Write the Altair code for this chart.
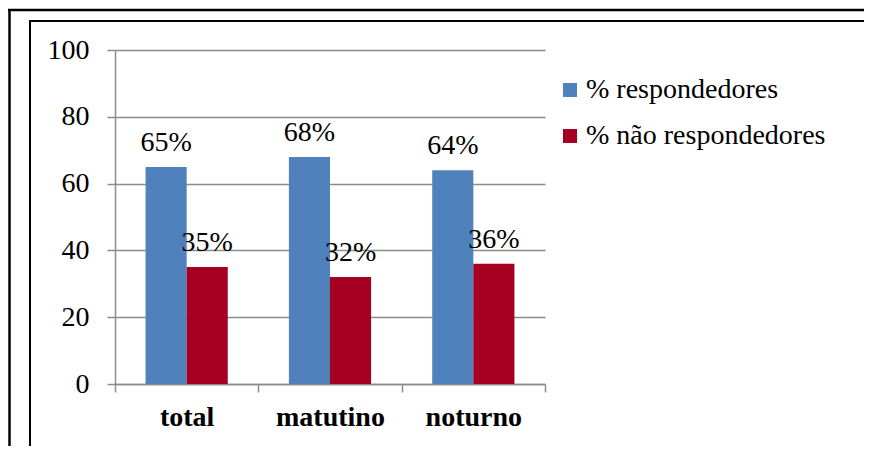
import altair as alt
import pandas as pd

categories = ["total", "matutino", "noturno"]
series = ["% respondedores", "% não respondedores"]
respondedores = [65, 68, 64]
nao_respondedores = [35, 32, 36]
y_ticks = [0, 20, 40, 60, 80, 100]
colors = ["#4F81BD", "#A50021"]

rows = []
for c, a, b in zip(categories, respondedores, nao_respondedores):
    rows.append({"categoria": c, "serie": series[0], "valor": a, "rotulo": f"{a}%"})
    rows.append({"categoria": c, "serie": series[1], "valor": b, "rotulo": f"{b}%"})
df = pd.DataFrame(rows)

FONT = "Liberation Serif"
FS = 28
GRAY = "#8C8C8C"

x_enc = alt.X(
    "categoria:N",
    sort=categories,
    scale=alt.Scale(paddingInner=0, paddingOuter=0),
    axis=alt.Axis(
        title=None, labelAngle=0, labelFont=FONT, labelFontSize=FS,
        labelFontWeight="bold", labelColor="black", tickBand="extent",
        tickSize=8, tickColor=GRAY, domainColor=GRAY, labelPadding=11,
        domainWidth=1.5, tickWidth=1.5,
    ),
)
xo_enc = alt.XOffset("serie:N", sort=series,
                     scale=alt.Scale(paddingInner=0, paddingOuter=0.744))
y_enc = alt.Y(
    "valor:Q",
    scale=alt.Scale(domain=[0, 100], nice=False),
    axis=alt.Axis(
        title=None, values=y_ticks, grid=True, gridColor=GRAY, gridWidth=1.5,
        tickSize=8, tickColor=GRAY, tickWidth=1.5, domainColor=GRAY, domainWidth=1.5,
        labelFont=FONT, labelFontSize=FS, labelColor="black", labelPadding=18,
    ),
)

bars = alt.Chart(df).mark_bar().encode(
    x=x_enc,
    xOffset=xo_enc,
    y=y_enc,
    color=alt.Color(
        "serie:N",
        sort=series,
        scale=alt.Scale(domain=series, range=colors),
        legend=alt.Legend(
            title=None, orient="none", legendX=441, legendY=26,
            symbolType="square", symbolSize=196, symbolStrokeWidth=0,
            labelFont=FONT, labelFontSize=FS, labelColor="black",
            labelOffset=2, rowPadding=18, labelLimit=400,
        ),
    ),
)

labels = alt.Chart(df).mark_text(
    font=FONT, fontSize=FS, baseline="alphabetic", dy=-16, color="black"
).encode(x=alt.X("categoria:N", sort=categories), xOffset=xo_enc,
         y="valor:Q", text="rotulo:N")

one = pd.DataFrame({"a": [0]})
outer_top = alt.Chart(one).mark_rule(color="black", strokeWidth=2.5).encode(
    x=alt.value(-110), x2=alt.value(760), y=alt.value(-40))
outer_left = alt.Chart(one).mark_rule(color="black", strokeWidth=2.5).encode(
    x=alt.value(-105.5), y=alt.value(-41), y2=alt.value(420))
inner_top = alt.Chart(one).mark_rule(color="black", strokeWidth=2).encode(
    x=alt.value(-86), x2=alt.value(750), y=alt.value(-29))
inner_left = alt.Chart(one).mark_rule(color="black", strokeWidth=2).encode(
    x=alt.value(-85), y=alt.value(-30), y2=alt.value(420))

chart = alt.layer(bars, labels, outer_top, outer_left, inner_top, inner_left).properties(
    width=430, height=334,
    padding={"left": 107, "top": 42, "right": 319, "bottom": 62},
    autosize=alt.AutoSizeParams(type="none"),
).configure_view(stroke=None)

chart.save("out.html", embed_options={"renderer": "svg", "actions": False})
